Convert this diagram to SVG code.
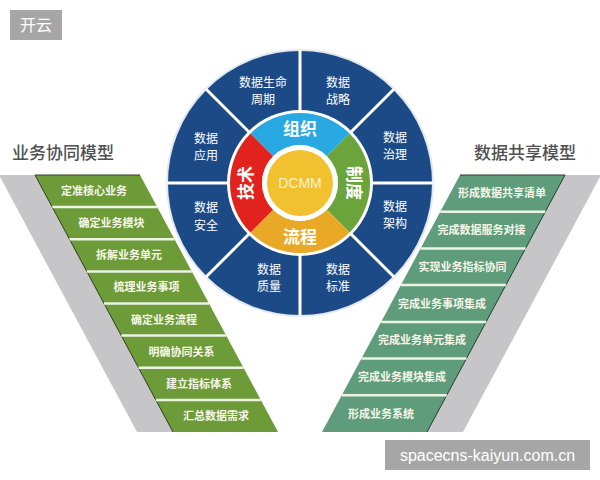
<svg xmlns="http://www.w3.org/2000/svg" width="600" height="480" viewBox="0 0 600 480">
<style>
.cjk{font-family:"Noto Sans CJK SC","Liberation Sans",sans-serif}
.row{font-size:11px;fill:#f7f7e8;font-weight:bold;text-anchor:middle}
.seg{font-size:12px;fill:#ffffff;text-anchor:middle}
.ring{font-size:17px;fill:#ffffff;font-weight:bold;text-anchor:middle}
.head{font-size:17px;fill:#505050;font-weight:500}
.sep{stroke:#eef3e4;stroke-width:2.5}
.div{stroke:#ffffff;stroke-width:3}
.wm{fill:#a6a6a6}
.wmt{fill:#ffffff;font-size:16px}
</style>
<rect width="600" height="480" fill="#ffffff"/>

<g id="left-model">
  <polygon points="-1,175 35,175 173,432 137,432" fill="#c6c6c8"/>
  <polygon points="35,175 140,175 278,432 173,432" fill="#6c9b38"/>
  <polyline points="140,175 35,175 173,432" fill="none" stroke="#2e3d1c" stroke-width="1"/>
  <g class="sep">
    <line x1="52.3" y1="207.1" x2="157.3" y2="207.1"/>
    <line x1="69.5" y1="239.3" x2="174.5" y2="239.3"/>
    <line x1="86.8" y1="271.4" x2="191.8" y2="271.4"/>
    <line x1="104" y1="303.5" x2="209" y2="303.5"/>
    <line x1="121.3" y1="335.6" x2="226.3" y2="335.6"/>
    <line x1="138.5" y1="367.8" x2="243.5" y2="367.8"/>
    <line x1="155.8" y1="399.9" x2="260.8" y2="399.9"/>
  </g>
  <g class="cjk row">
    <text x="94" y="195">定准核心业务</text>
    <text x="111.5" y="227.2">确定业务模块</text>
    <text x="129" y="259.3">拆解业务单元</text>
    <text x="146.5" y="291.4">梳理业务事项</text>
    <text x="164" y="323.6">确定业务流程</text>
    <text x="181.5" y="355.7">明确协同关系</text>
    <text x="199" y="387.8">建立指标体系</text>
    <text x="216" y="419.9">汇总数据需求</text>
  </g>
  <text class="cjk head" x="12" y="159">业务协同模型</text>
</g>

<g id="right-model">
  <polygon points="601,175 565,175 427,432 463,432" fill="#c6c6c8"/>
  <polygon points="460,175 565,175 427,432 322,432" fill="#5e9c7c"/>
  <polyline points="460,175 565,175 427,432" fill="none" stroke="#243a2e" stroke-width="1"/>
  <g class="sep">
    <line x1="440.3" y1="211.7" x2="545.3" y2="211.7"/>
    <line x1="420.6" y1="248.4" x2="525.6" y2="248.4"/>
    <line x1="400.9" y1="285.1" x2="505.9" y2="285.1"/>
    <line x1="381.2" y1="321.9" x2="486.2" y2="321.9"/>
    <line x1="361.5" y1="358.6" x2="466.5" y2="358.6"/>
    <line x1="341.8" y1="395.3" x2="446.8" y2="395.3"/>
  </g>
  <g class="cjk row">
    <text x="502" y="197.4">形成数据共享清单</text>
    <text x="481.5" y="234.1">完成数据服务对接</text>
    <text x="462.5" y="270.8">实现业务指标协同</text>
    <text x="442" y="307.5">完成业务事项集成</text>
    <text x="422" y="344.2">完成业务单元集成</text>
    <text x="402" y="380.9">完成业务模块集成</text>
    <text x="381" y="417.6">形成业务系统</text>
  </g>
  <text class="cjk head" x="474" y="159">数据共享模型</text>
</g>

<g id="dcmm-wheel">
  <circle cx="300" cy="183" r="133" fill="#1c4a86" stroke="#e3e8ef" stroke-width="2"/>
  <g class="div">
    <line x1="300" y1="183" x2="433" y2="183"/>
    <line x1="300" y1="183" x2="394.05" y2="277.05"/>
    <line x1="300" y1="183" x2="300" y2="316"/>
    <line x1="300" y1="183" x2="205.95" y2="277.05"/>
    <line x1="300" y1="183" x2="167" y2="183"/>
    <line x1="300" y1="183" x2="205.95" y2="88.95"/>
    <line x1="300" y1="183" x2="300" y2="50"/>
    <line x1="300" y1="183" x2="394.05" y2="88.95"/>
  </g>
  <g class="cjk seg">
    <text x="263" y="86.5">数据生命<tspan x="263" dy="17.6">周期</tspan></text>
    <text x="338" y="86.5">数据<tspan x="338" dy="17.6">战略</tspan></text>
    <text x="395" y="141.5">数据<tspan x="395" dy="17.6">治理</tspan></text>
    <text x="395" y="210.5">数据<tspan x="395" dy="17.6">架构</tspan></text>
    <text x="338" y="273.5">数据<tspan x="338" dy="17.6">标准</tspan></text>
    <text x="269" y="273.5">数据<tspan x="269" dy="17.6">质量</tspan></text>
    <text x="206" y="212">数据<tspan x="206" dy="17.6">安全</tspan></text>
    <text x="206" y="142.5">数据<tspan x="206" dy="17.6">应用</tspan></text>
  </g>
  <circle cx="300" cy="183" r="73" fill="#ffffff"/>
  <path id="ring-org" d="M250.5,133.5 A70,70 0 0 1 349.5,133.5 L326.87,156.13 A38,38 0 0 0 273.13,156.13 Z" fill="#29a9e1"/>
  <path id="ring-sys" d="M349.5,133.5 A70,70 0 0 1 349.5,232.5 L326.87,209.87 A38,38 0 0 0 326.87,156.13 Z" fill="#6aa43a"/>
  <path id="ring-proc" d="M349.5,232.5 A70,70 0 0 1 250.5,232.5 L273.13,209.87 A38,38 0 0 0 326.87,209.87 Z" fill="#e9a826"/>
  <path id="ring-tech" d="M250.5,232.5 A70,70 0 0 1 250.5,133.5 L273.13,156.13 A38,38 0 0 0 273.13,209.87 Z" fill="#e2231d"/>
  <g class="cjk ring">
    <text x="300" y="135">组织</text>
    <text x="300" y="243">流程</text>
    <text transform="translate(252,183) rotate(-90)" x="0" y="0">技术</text>
    <text transform="translate(348,183) rotate(90)" x="0" y="0">制度</text>
  </g>
  <circle cx="300" cy="183" r="38" fill="#ffffff"/>
  <circle cx="300" cy="183" r="33" fill="#f2c12f"/>
  <text x="300" y="188" font-family="Liberation Sans, sans-serif" font-size="14" fill="#fdf2cc" text-anchor="middle">DCMM</text>
</g>

<g id="watermark-top">
  <rect class="wm" x="10" y="10" width="52" height="30"/>
  <text class="cjk wmt" x="36" y="31" text-anchor="middle">开云</text>
</g>
<g id="watermark-bottom">
  <rect class="wm" x="385" y="440" width="205" height="30"/>
  <text class="wmt" x="487.5" y="461" font-family="Liberation Sans, sans-serif" text-anchor="middle">spacecns-kaiyun.com.cn</text>
</g>
</svg>
